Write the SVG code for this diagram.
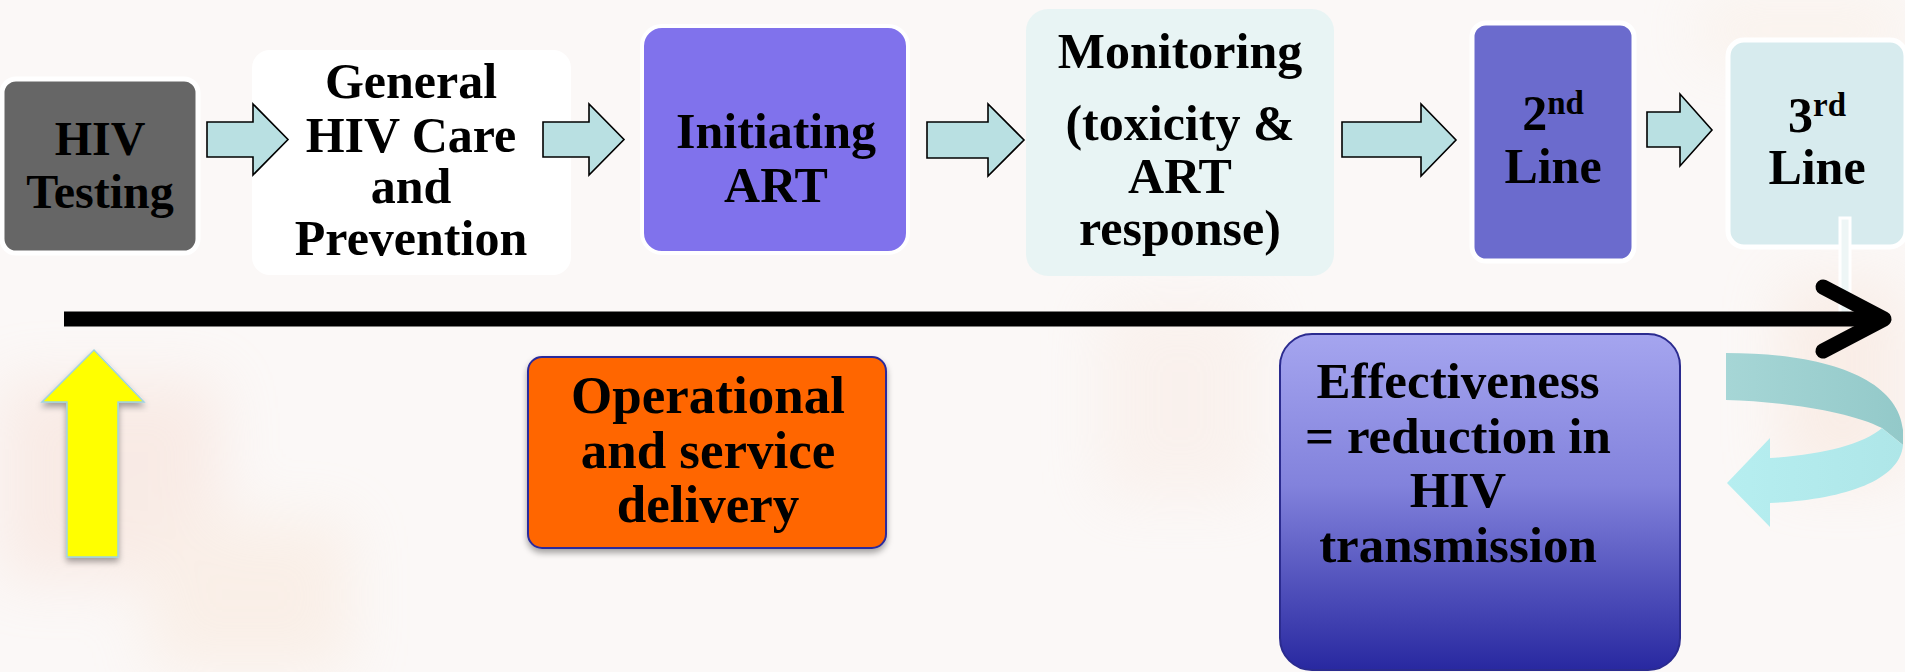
<svg xmlns="http://www.w3.org/2000/svg" width="1905" height="672" viewBox="0 0 1905 672">
<defs>
<style>
.t{font-family:"Liberation Serif","Times New Roman",serif;font-weight:bold;fill:#000;text-anchor:middle}
.blk{fill:#b9e0e2;stroke:#000;stroke-width:1.6;stroke-linejoin:miter}
</style>
<linearGradient id="eff" x1="0" y1="0" x2="0" y2="1">
<stop offset="0" stop-color="#a5a5ef"/>
<stop offset="0.45" stop-color="#8282dc"/>
<stop offset="1" stop-color="#2828a0"/>
</linearGradient>
<linearGradient id="bandTop" x1="0" y1="0" x2="1" y2="0">
<stop offset="0" stop-color="#a6d6d6"/>
<stop offset="1" stop-color="#93c9c9"/>
</linearGradient>
<linearGradient id="bandBot" x1="0" y1="0" x2="1" y2="0">
<stop offset="0" stop-color="#b6eef0"/>
<stop offset="1" stop-color="#aee6e8"/>
</linearGradient>
<filter id="sh" x="-20%" y="-20%" width="140%" height="140%">
<feDropShadow dx="0" dy="4" stdDeviation="3" flood-color="#000" flood-opacity="0.35"/>
</filter>
<filter id="blur" x="-50%" y="-50%" width="200%" height="200%">
<feGaussianBlur stdDeviation="30"/>
</filter>
</defs>
<rect x="0" y="0" width="1905" height="672" fill="#fbf8f7"/>
<g id="background" filter="url(#blur)" opacity="0.28">
<rect x="0" y="380" width="220" height="200" fill="#f3c9b8"/>
<rect x="150" y="520" width="200" height="152" fill="#f6d8c0"/>
<rect x="1780" y="280" width="125" height="200" fill="#f4d2bd"/>
<rect x="1100" y="300" width="160" height="200" fill="#f6e0d4"/>
<rect x="1700" y="0" width="205" height="60" fill="#f7e3cf"/>
</g>

<g id="hiv-testing">
<rect x="2" y="79" width="196" height="174" rx="14" fill="#666666" stroke="#ffffff" stroke-width="5"/>
<text class="t" x="100" y="155" font-size="48">HIV</text>
<text class="t" x="100" y="208" font-size="48">Testing</text>
</g>

<g id="general-care">
<rect x="252" y="50" width="319" height="225" rx="18" fill="#ffffff"/>
<text class="t" x="411" y="98" font-size="50">General</text>
<text class="t" x="411" y="152" font-size="50">HIV Care</text>
<text class="t" x="411" y="203" font-size="50">and</text>
<text class="t" x="411" y="255" font-size="50">Prevention</text>
</g>

<g id="initiating-art">
<rect x="642" y="26" width="266" height="227" rx="20" fill="#8072ec" stroke="#ffffff" stroke-width="4"/>
<text class="t" x="776" y="148" font-size="50">Initiating</text>
<text class="t" x="776" y="202" font-size="50">ART</text>
</g>

<g id="monitoring">
<rect x="1026" y="9" width="308" height="267" rx="22" fill="#e8f4f4"/>
<text class="t" x="1180" y="68" font-size="50">Monitoring</text>
<text class="t" x="1180" y="140" font-size="50">(toxicity &amp;</text>
<text class="t" x="1180" y="193" font-size="50">ART</text>
<text class="t" x="1180" y="245" font-size="50">response)</text>
</g>

<g id="second-line">
<rect x="1472" y="23" width="162" height="238" rx="14" fill="#6b6bcd" stroke="#ffffff" stroke-width="5"/>
<text class="t" x="1553" y="130" font-size="50">2<tspan font-size="33" dy="-16">nd</tspan></text>
<text class="t" x="1553" y="183" font-size="50">Line</text>
</g>

<g id="third-line">
<rect x="1728" y="40" width="178" height="207" rx="16" fill="#d7ebee" stroke="#ffffff" stroke-width="5"/>
<text class="t" x="1817" y="132" font-size="50">3<tspan font-size="33" dy="-16">rd</tspan></text>
<text class="t" x="1817" y="184" font-size="50">Line</text>
</g>

<g id="operational">
<rect x="528" y="357" width="358" height="191" rx="14" fill="#ff6600" stroke="#2b2b9c" stroke-width="2" filter="url(#sh)"/>
<text class="t" x="708" y="413" font-size="53">Operational</text>
<text class="t" x="708" y="468" font-size="53">and service</text>
<text class="t" x="708" y="522" font-size="53">delivery</text>
</g>

<g id="effectiveness">
<rect x="1280" y="334" width="400" height="336" rx="32" fill="url(#eff)" stroke="#2b2b8f" stroke-width="2"/>
<text class="t" x="1458" y="398" font-size="51">Effectiveness</text>
<text class="t" x="1458" y="453" font-size="51">= reduction in</text>
<text class="t" x="1458" y="507" font-size="51">HIV</text>
<text class="t" x="1458" y="562" font-size="51">transmission</text>
</g>

<g id="connectors">
<polygon class="blk" points="207,122 253,122 253,104 288,139.5 253,175 253,157 207,157"/>
<polygon class="blk" points="543,122 589,122 589,104 624,139.5 589,175 589,157 543,157"/>
<polygon class="blk" points="927,122 988,122 988,104 1024,140 988,176 988,158 927,158"/>
<polygon class="blk" points="1342,122 1421,122 1421,104 1456,140 1421,176 1421,157 1342,157"/>
<polygon class="blk" points="1647,112 1680,112 1680,94 1712,130 1680,166 1680,147 1647,147"/>
<rect x="1840" y="218" width="10" height="98" fill="#eef6f6" stroke="#ffffff" stroke-width="3"/>
<line x1="64" y1="319" x2="1880" y2="319" stroke="#000" stroke-width="15"/>
<polyline points="1823,287 1884,319 1823,351" fill="none" stroke="#000" stroke-width="15" stroke-linecap="round" stroke-linejoin="round"/>
<polygon points="94,350 144,402 118,402 118,557 67,557 67,402 42,402" fill="#ffff00" stroke="#9fd3e0" stroke-width="1.5" filter="url(#sh)"/>
<path d="M1726,353 C1830,353 1898,380 1903,430 L1903,445 L1882,428 C1850,412 1790,402 1726,400 Z" fill="url(#bandTop)"/>
<path d="M1882,428 L1903,445 C1900,482 1840,500 1770,503 L1770,527 L1727,483 L1770,438 L1770,458 C1820,455 1862,445 1882,428 Z" fill="url(#bandBot)"/>
</g>
</svg>
